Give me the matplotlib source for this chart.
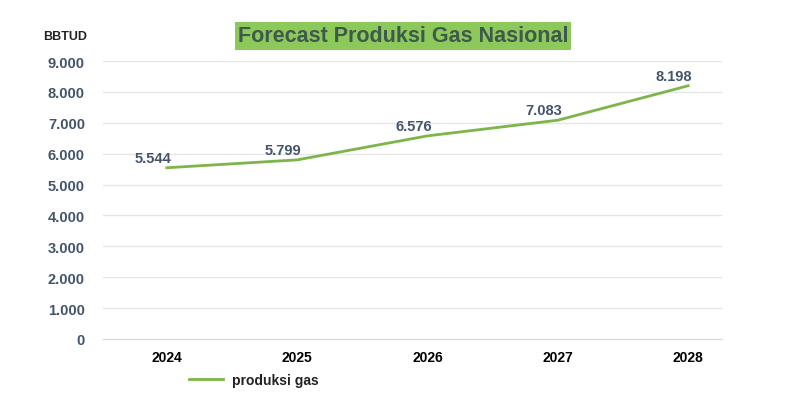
import matplotlib
matplotlib.use("Agg")
import matplotlib.pyplot as plt

years = ["2024", "2025", "2026", "2027", "2028"]
produksi = [5544, 5799, 6576, 7083, 8198]
labels = ["5.544", "5.799", "6.576", "7.083", "8.198"]
yticks = [0, 1000, 2000, 3000, 4000, 5000, 6000, 7000, 8000, 9000]
ytick_labels = ["0", "1.000", "2.000", "3.000", "4.000", "5.000", "6.000", "7.000", "8.000", "9.000"]

plt.rcParams['font.family'] = ['Liberation Sans', 'DejaVu Sans']

fig = plt.figure(figsize=(8, 4.02), dpi=100)
ax = fig.add_axes([103/800, (402-340)/402, (722-103)/800, (340-62)/402])

x = list(range(len(years)))
line_color = "#7db54a"
ax.plot(x, produksi, color=line_color, lw=2, label="produksi gas")

for xi, v, t in zip(x, produksi, labels):
    ax.annotate(t, (xi, v), xytext=(-10, 2), textcoords="offset points",
                ha="center", va="bottom", fontsize=10.5, fontweight="bold", color="#44546a")

ax.set_ylim(0, 9000)
ax.set_xlim(-0.49, 4.26)
ax.set_yticks(yticks)
ax.set_yticklabels(ytick_labels, fontsize=10.5, fontweight="bold", color="#44546a")
ax.set_xticks(x)
ax.set_xticklabels(years, fontsize=10, fontweight="bold", color="black")
ax.tick_params(axis="both", length=0)
ax.tick_params(axis="y", pad=13)
ax.tick_params(axis="x", pad=8)
ax.grid(axis="y", color="#e6e6e6", lw=1)
ax.set_axisbelow(True)
for s in ["top", "right", "left"]:
    ax.spines[s].set_visible(False)
ax.spines["bottom"].set_color("#d9d9d9")

fig.text(65/800, 1-37/402, "BBTUD", fontsize=9, fontweight="bold", color="#222222",
         ha="center", va="center")

fig.text(403/800, 1-37/402, "Forecast Produksi Gas Nasional", fontsize=15.5, fontweight="bold",
         color="#3e5a4c", ha="center", va="center",
         bbox=dict(boxstyle="square,pad=0.15", facecolor="#8dc95a", edgecolor="none"))

fig.legend(loc="center left", bbox_to_anchor=(176/800, 1-381/402), frameon=False,
           prop=dict(size=10, weight="bold"), handlelength=2.5, handletextpad=0.6,
           labelcolor="#222222")

fig.savefig("out.png", dpi=100)
